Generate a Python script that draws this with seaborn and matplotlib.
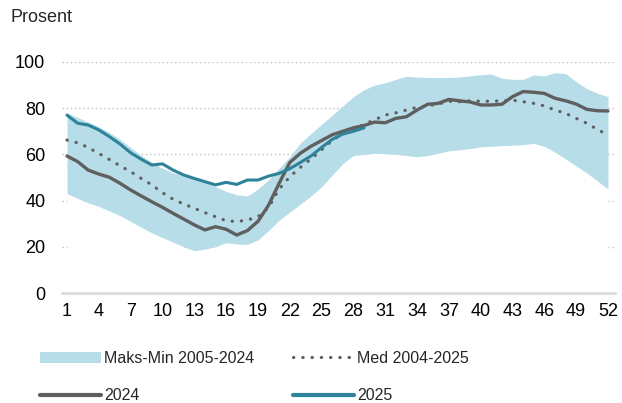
import numpy as np
import pandas as pd
import matplotlib.pyplot as plt
import seaborn as sns
from matplotlib.patches import Patch
from matplotlib.lines import Line2D

# ==========================
# DATA
# ==========================

weeks = list(range(1, 53))
x_ticks = list(range(1, 53, 3))
y_ticks = [0, 20, 40, 60, 80, 100]

band_max = [78, 76, 74, 72, 69.5, 66.5, 63, 59.5, 56.5, 54,
            52, 51, 49.5, 48, 46, 44, 42.5, 42, 45, 49,
            54, 59, 65, 69, 73, 77, 81, 85, 88, 90,
            91, 92.5, 93.8, 93.5, 93.3, 93.3, 93.3, 93.5, 94, 94.5,
            94.8, 93, 92.5, 92.5, 94.4, 94, 95.4, 95, 91.5, 88.5,
            86.5, 85]

band_min = [43, 41, 39, 37.5, 35.5, 33.5, 31, 28.5, 26, 24,
            22, 20, 18.3, 19, 20, 21.8, 21.2, 21, 23, 27,
            31.5, 35, 38.5, 42, 46, 51, 56, 59.5, 60, 60.5,
            60.3, 60, 59.5, 59, 59.5, 60.5, 61.5, 62, 62.5, 63.3,
            63.5, 63.8, 64, 64.2, 64.8, 63.5, 61, 58, 55, 52,
            48.5, 45]

median = [66.2, 65, 63, 60.4, 57.8, 55.1, 52.5, 49.6, 46.8, 43.4,
          40.6, 38.5, 36.7, 34.8, 33, 31.3, 30.9, 31.6, 33, 37,
          45, 50.3, 54.4, 58, 62, 66, 69, 71, 73, 75,
          77, 78, 79.2, 80.4, 81, 81.8, 83, 82.8, 83.2, 83,
          83, 83.2, 83.5, 82.8, 82.1, 81, 79.2, 77.8, 75.6, 73.5,
          70.8, 68.4]

y2024 = [59.3, 56.9, 53.2, 51.5, 50.1, 47.5, 44.6, 42, 39.5, 37.1,
         34.5, 32, 29.5, 27.3, 28.7, 27.6, 25.1, 27, 31, 38,
         47.5, 56.5, 60.5, 63.5, 66, 68.5, 70, 71.5, 72.5, 74,
         73.7, 75.6, 76.3, 79.2, 81.7, 82.1, 83.8, 83.2, 82.7, 81.4,
         81.4, 81.7, 85, 87.2, 86.9, 86.4, 84.3, 83.2, 81.8, 79.5,
         78.9, 78.8]

y2025 = [77, 73.5, 72.7, 70.6, 67.7, 64.5, 60.7, 57.9, 55.4, 55.9,
         53.2, 51.1, 49.6, 48.2, 46.8, 47.9, 47, 48.9, 48.9, 50.6,
         51.8, 53.8, 56.5, 59.3, 63, 66.5, 68.8, 70, 71.5]

df = pd.DataFrame({
    "week": weeks,
    "max": band_max,
    "min": band_min,
    "median": median,
    "y2024": y2024,
})
df25 = pd.DataFrame({"week": weeks[:len(y2025)], "y2025": y2025})

# ==========================
# STYLE
# ==========================

sns.set_theme(style="white")
plt.rcParams["font.family"] = ["Liberation Sans", "DejaVu Sans"]

band_color = "#b7dde8"
grey = "#5f5f5f"
teal = "#2e8299"

fig = plt.figure(figsize=(6.22, 4.03), dpi=100)
ax = fig.add_axes([62 / 622, 1 - 293 / 403, 553 / 622, 231 / 403])

# ==========================
# PLOT
# ==========================

# white area under the minimum hides the grid there, as in the source chart
ax.fill_between(df["week"], 0, df["min"], color="white", lw=0, zorder=1)
ax.fill_between(df["week"], df["min"], df["max"], color=band_color, lw=0, zorder=1.5)

sns.lineplot(data=df, x="week", y="median", ax=ax, color=grey, linewidth=2.3,
             linestyle=(0, (0.1, 2.8)), dash_capstyle="round", legend=False, zorder=3)
sns.lineplot(data=df, x="week", y="y2024", ax=ax, color=grey, linewidth=2.4,
             legend=False, zorder=4)
sns.lineplot(data=df25, x="week", y="y2025", ax=ax, color=teal, linewidth=2.2,
             legend=False, zorder=5)

ax.set_xlim(0.53, 52.66)
ax.set_ylim(0, 100)
ax.set_xticks(x_ticks)
ax.set_yticks(y_ticks)
ax.set_xlabel("")
ax.set_ylabel("")
ax.tick_params(axis="both", length=0, labelsize=13, colors="#000000")
ax.tick_params(axis="y", pad=12)
ax.tick_params(axis="x", pad=7)

ax.yaxis.grid(True, linestyle=(0, (1, 2)), color="#bfbfbf", linewidth=1)
ax.set_axisbelow(True)

for side in ["top", "right", "left"]:
    ax.spines[side].set_visible(False)
ax.spines["bottom"].set_color("#dcdcdc")
ax.spines["bottom"].set_linewidth(2)

fig.text(10 / 622, 1 - 18 / 403, "Prosent", fontsize=13, va="center", ha="left")

# ==========================
# LEGEND
# ==========================

h_band = Patch(facecolor=band_color, edgecolor="none")
h_med = Line2D([], [], color=grey, linewidth=2.3, linestyle=(0, (0.1, 2.8)),
               dash_capstyle="round")
h_2024 = Line2D([], [], color=grey, linewidth=3)
h_2025 = Line2D([], [], color=teal, linewidth=3)

leg_kw = dict(frameon=False, loc="upper left", fontsize=11.5, borderpad=0,
              borderaxespad=0, handlelength=3.8, handletextpad=0.2,
              labelspacing=1.4)
leg1 = fig.legend([h_band, h_2024], ["Maks-Min 2005-2024", "2024"],
                  bbox_to_anchor=(40 / 622, 1 - 351 / 403), **leg_kw)
leg2 = fig.legend([h_med, h_2025], ["Med 2004-2025", "2025"],
                  bbox_to_anchor=(293 / 622, 1 - 351 / 403), **leg_kw)

fig.savefig("out.png", dpi=100)
